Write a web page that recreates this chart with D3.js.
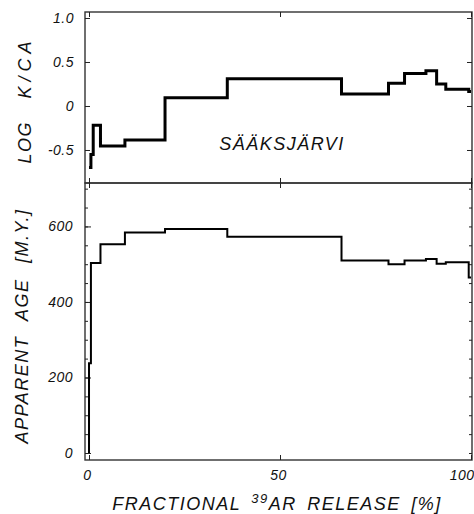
<!DOCTYPE html>
<html>
<head>
<meta charset="utf-8">
<script src="https://cdn.jsdelivr.net/npm/d3@7/dist/d3.min.js"></script>
<style>
  body { margin: 0; background: #fff; }
  text { font-family: "Liberation Sans", Arial, sans-serif; font-style: italic; fill: #111; }
  .tick text { font-size: 14px; letter-spacing: 0.5px; }
  .lbl { font-size: 18px; letter-spacing: 1.5px; word-spacing: 4px; }
</style>
</head>
<body>
<svg id="chart" width="474" height="514"></svg>
<script>
// step edges: cumulative fraction of 39Ar released (%)
const release = [0, 0.5, 1.1, 3.0, 9.4, 19.9, 36.2, 66.1, 78.4, 82.6, 88.2, 91.0, 93.4, 99.4, 100]
// log K/Ca of each step
const logKCa = [-0.70, -0.55, -0.22, -0.455, -0.386, 0.094, 0.31, 0.136, 0.258, 0.37, 0.40, 0.25, 0.19, 0.165]
// apparent age of each step (m.y.)
const ageMy = [238, 503, 503, 553, 584, 593, 573, 510, 500, 510, 514, 501, 505, 465]
const ageStart = 0

const kcaTicks = [-0.5, 0, 0.5, 1.0]
const ageTicks = [0, 200, 400, 600]
const ageMinor = d3.range(0, 701, 50)
const xTicks = [0, 50, 100]

const left = 85, right = 472
const topY = 12, midY = 183, botY = 460

const svg = d3.select('#chart')

const x = d3.scaleLinear().domain([-1.05, 100.26]).range([left, right])
const yK = d3.scaleLinear().domain([-0.875, 1.068]).range([midY, topY])
const yA = d3.scaleLinear().domain([-18.5, 715]).range([botY, midY])

// turn step values into points for a stepAfter line
function steps(vals, start) {
  const pts = []
  if (start !== undefined) pts.push([release[0], start])
  vals.forEach((v, i) => pts.push([release[i], v]))
  pts.push([release[release.length - 1], vals[vals.length - 1]])
  return pts
}

const noDomain = g => g.select('.domain').remove()

// frames
svg.append('rect')
  .attr('x', left).attr('y', topY)
  .attr('width', right - left).attr('height', midY - topY)
  .attr('fill', 'none').attr('stroke', '#333').attr('stroke-width', 1.4)
svg.append('rect')
  .attr('x', left).attr('y', midY)
  .attr('width', right - left).attr('height', botY - midY)
  .attr('fill', 'none').attr('stroke', '#333').attr('stroke-width', 1.4)

// top panel axes
svg.append('g').attr('transform', `translate(${left},0)`).attr('color', '#222')
  .call(d3.axisLeft(yK).tickValues(kcaTicks).tickSize(-5).tickPadding(11)
    .tickFormat(d => d === 0 ? '0' : d.toFixed(1)))
  .call(noDomain)
svg.append('g').attr('transform', `translate(${right},0)`).attr('color', '#222')
  .call(d3.axisRight(yK).tickValues(kcaTicks).tickSize(-5).tickFormat(''))
  .call(noDomain)
svg.append('g').attr('transform', `translate(0,${topY})`).attr('color', '#222')
  .call(d3.axisTop(x).tickValues(xTicks).tickSize(-5).tickFormat(''))
  .call(noDomain)
svg.append('g').attr('transform', `translate(0,${midY})`).attr('color', '#222')
  .call(d3.axisBottom(x).tickValues(xTicks).tickSize(-5).tickFormat(''))
  .call(noDomain)

// bottom panel axes
svg.append('g').attr('transform', `translate(${left},0)`).attr('color', '#222')
  .call(d3.axisLeft(yA).tickValues(ageMinor).tickSize(-3).tickFormat(''))
  .call(noDomain)
svg.append('g').attr('transform', `translate(${left},0)`).attr('color', '#222')
  .call(d3.axisLeft(yA).tickValues(ageTicks).tickSize(-6).tickPadding(12))
  .call(noDomain)
svg.append('g').attr('transform', `translate(${right},0)`).attr('color', '#222')
  .call(d3.axisRight(yA).tickValues(ageMinor).tickSize(-3).tickFormat(''))
  .call(noDomain)
svg.append('g').attr('transform', `translate(0,${midY})`).attr('color', '#222')
  .call(d3.axisTop(x).tickValues(xTicks).tickSize(-5).tickFormat(''))
  .call(noDomain)
const xAxis = svg.append('g').attr('transform', `translate(0,${botY})`).attr('color', '#222')
  .call(d3.axisBottom(x).tickValues(xTicks).tickSize(-5).tickPadding(10))
  .call(noDomain)
xAxis.selectAll('.tick text').attr('dx', -2)
xAxis.selectAll('.tick').filter(d => d === 100).select('text')
  .attr('text-anchor', 'end').attr('dx', 3)

// step lines
svg.append('path')
  .datum(steps(logKCa))
  .attr('fill', 'none').attr('stroke', '#000').attr('stroke-width', 3)
  .attr('d', d3.line().curve(d3.curveStepAfter).x(d => x(d[0])).y(d => yK(d[1])))
svg.append('path')
  .datum(steps(ageMy, ageStart))
  .attr('fill', 'none').attr('stroke', '#000').attr('stroke-width', 2)
  .attr('d', d3.line().curve(d3.curveStepAfter).x(d => x(d[0])).y(d => yA(d[1])))

// labels
const yk = svg.append('text').attr('class', 'lbl')
  .attr('transform', 'translate(31,100) rotate(-90)')
  .attr('text-anchor', 'middle')
  .style('word-spacing', '16px')
yk.append('tspan').text('LOG ')
yk.append('tspan').style('letter-spacing', '5px').text('K/CA')
svg.append('text').attr('class', 'lbl')
  .attr('transform', 'translate(28,326) rotate(-90)')
  .attr('text-anchor', 'middle')
  .style('word-spacing', '9px')
  .text('APPARENT AGE [M.Y.]')
svg.append('text').attr('class', 'lbl')
  .attr('x', 282).attr('y', 150)
  .attr('text-anchor', 'middle')
  .text('SÄÄKSJÄRVI')

const xt = svg.append('text').attr('class', 'lbl')
  .attr('x', 277).attr('y', 510)
  .attr('text-anchor', 'middle')
xt.append('tspan').text('FRACTIONAL ')
xt.append('tspan').attr('dy', -7).style('font-size', '13px').text('39')
xt.append('tspan').attr('dy', 7).text('AR RELEASE [%]')
</script>
</body>
</html>
